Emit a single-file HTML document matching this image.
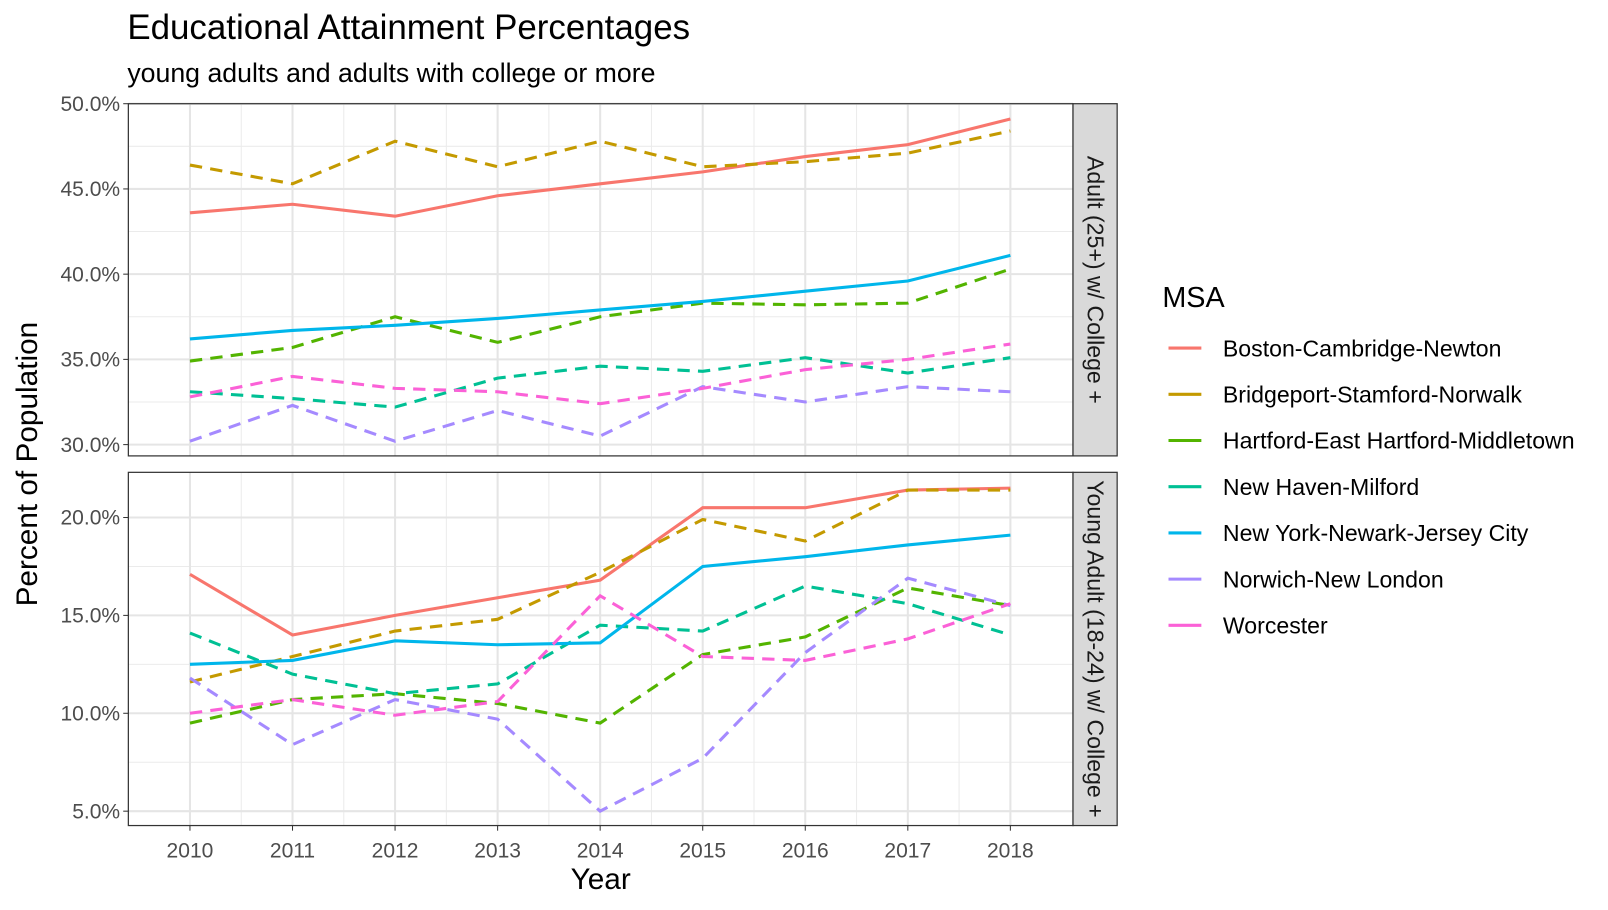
<!DOCTYPE html>
<html><head><meta charset="utf-8"><style>
html,body{margin:0;padding:0;background:#fff;overflow:hidden;font-family:"Liberation Sans",Arial,sans-serif}
svg{display:block}
svg text{font-family:"Liberation Sans",Arial,sans-serif}
</style></head><body>
<svg id="chart" width="1608" height="910" viewBox="0 0 1608 910">
<g transform="scale(1.0268)">
<text x="124" y="38" font-size="34" fill="#000">Educational Attainment Percentages</text>
<text x="124" y="80" font-size="26" fill="#000">young adults and adults with college or more</text>
<text x="585" y="866" font-size="29" text-anchor="middle">Year</text>
<text transform="translate(36,452) rotate(-90)" font-size="29" text-anchor="middle">Percent of Population</text>
<g id="plots"></g>
<g id="legend"></g>
</g>
</svg>
<script>
const years=[2010,2011,2012,2013,2014,2015,2016,2017,2018];
const seriesNames=["Boston-Cambridge-Newton","Bridgeport-Stamford-Norwalk","Hartford-East Hartford-Middletown","New Haven-Milford","New York-Newark-Jersey City","Norwich-New London","Worcester"];
const colors=["#F8766D","#C49A00","#53B400","#00C094","#00B6EB","#A58AFF","#FB61D7"];
const dashed=[false,true,true,true,false,true,true];
const adultBoston=[43.6,44.1,43.4,44.6,45.3,46.0,46.9,47.6,49.1];
const adultBridgeport=[46.4,45.3,47.8,46.3,47.8,46.3,46.6,47.1,48.4];
const adultHartford=[34.9,35.7,37.5,36.0,37.5,38.3,38.2,38.3,40.3];
const adultNewHaven=[33.1,32.7,32.2,33.9,34.6,34.3,35.1,34.2,35.1];
const adultNewYork=[36.2,36.7,37.0,37.4,37.9,38.4,39.0,39.6,41.1];
const adultNorwich=[30.2,32.3,30.2,32.0,30.5,33.4,32.5,33.4,33.1];
const adultWorcester=[32.8,34.0,33.3,33.1,32.4,33.3,34.4,35.0,35.9];
const youngBoston=[17.1,14.0,15.0,15.9,16.8,20.5,20.5,21.4,21.5];
const youngBridgeport=[11.6,12.9,14.2,14.8,17.2,19.9,18.8,21.4,21.4];
const youngHartford=[9.5,10.7,11.0,10.5,9.5,13.0,13.9,16.4,15.5];
const youngNewHaven=[14.1,12.0,11.0,11.5,14.5,14.2,16.5,15.6,14.0];
const youngNewYork=[12.5,12.7,13.7,13.5,13.6,17.5,18.0,18.6,19.1];
const youngNorwich=[11.8,8.4,10.7,9.7,5.0,7.7,13.1,16.9,15.5];
const youngWorcester=[10.0,10.7,9.9,10.6,16.0,12.9,12.7,13.8,15.6];
const adultTicks=[30,35,40,45,50];
const youngTicks=[5,10,15,20];
const adultData=[adultBoston,adultBridgeport,adultHartford,adultNewHaven,adultNewYork,adultNorwich,adultWorcester];
const youngData=[youngBoston,youngBridgeport,youngHartford,youngNewHaven,youngNewYork,youngNorwich,youngWorcester];

const NS="http://www.w3.org/2000/svg";
const root=document.getElementById('plots');
function mk(tag,attrs,parent){const e=document.createElementNS(NS,tag);for(const k in attrs)e.setAttribute(k,attrs[k]);(parent||root).appendChild(e);return e;}
const X0=125,X1=1045;
const xs=y=>185+(y-2010)*(984-185)/8;
function panel(top,bot,yv0,yp0,yv1,yp1,ticks,data,label,name){
  const ys=v=>yp0+(v-yv0)*(yp1-yp0)/(yv1-yv0);
  const g=mk('g',{});
  
  
  for(let i=0;i<ticks.length-1;i++){const m=(ticks[i]+ticks[i+1])/2;const l=mk('line',{x1:X0,x2:X1,y1:ys(m),y2:ys(m),stroke:'#ebebeb','stroke-width':1},g);}
  for(let i=0;i<years.length-1;i++){const m=(xs(years[i])+xs(years[i+1]))/2;mk('line',{x1:m,x2:m,y1:top,y2:bot,stroke:'#ebebeb','stroke-width':1},g);}
  ticks.forEach(t=>{const l=mk('line',{x1:X0,x2:X1,y1:ys(t),y2:ys(t),stroke:'#e5e5e5','stroke-width':2},g);
    mk('line',{x1:X0-5,x2:X0,y1:ys(t),y2:ys(t),stroke:'#333','stroke-width':1},g);
    const tx=mk('text',{x:X0-8,y:ys(t)+7,'font-size':20.5,fill:'#4d4d4d','text-anchor':'end'},g);tx.textContent=t.toFixed(1)+'%';
    });
  years.forEach(y=>mk('line',{x1:xs(y),x2:xs(y),y1:top,y2:bot,stroke:'#e5e5e5','stroke-width':2},g));
  data.forEach((d,i)=>{const p=mk('polyline',{points:d.map((v,j)=>xs(years[j])+','+ys(v)).join(' '),fill:'none',stroke:colors[i],'stroke-width':3,'stroke-dasharray':dashed[i]?'12,8':'none'},g);
    });
  mk('rect',{x:X0,y:top,width:X1-X0,height:bot-top,fill:'none',stroke:'#333','stroke-width':1.2},g);
  const s=mk('rect',{x:X1,y:top,width:43,height:bot-top,fill:'#d9d9d9',stroke:'#333','stroke-width':1.2},g);
  
  const st=mk('text',{transform:`translate(${X1+14},${(top+bot)/2}) rotate(90)`,'font-size':22.5,fill:'#1a1a1a','text-anchor':'middle'},g);st.textContent=label;
  
}
panel(101,444,50,101,30,433,adultTicks,adultData,'Adult (25+) w/ College +','adult');
panel(460,804,20,504,5,790,youngTicks,youngData,'Young Adult (18-24) w/ College +','young');
years.forEach(y=>{mk('line',{x1:xs(y),x2:xs(y),y1:804,y2:809,stroke:'#333'});
  const t=mk('text',{x:xs(y),y:835,'font-size':20.5,fill:'#4d4d4d','text-anchor':'middle'});t.textContent=y;
  });
const lg=document.getElementById('legend');
const lt=mk('text',{x:1132,y:299,'font-size':28},lg);lt.textContent='MSA';

seriesNames.forEach((n,i)=>{const y=339+i*45;
  const l=mk('line',{x1:1138,x2:1170,y1:y,y2:y,stroke:colors[i],'stroke-width':3},lg);
  
  const t=mk('text',{x:1191,y:y+8,'font-size':22.5,fill:'#000'},lg);t.textContent=n;
  });
</script>
</body></html>
